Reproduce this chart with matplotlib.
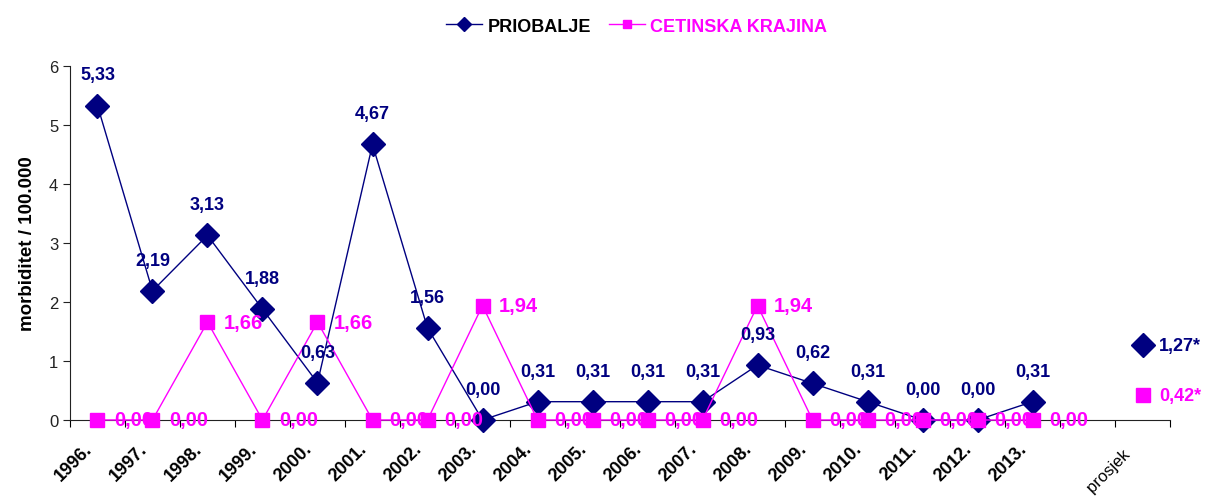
import matplotlib
matplotlib.use("Agg")
import matplotlib.pyplot as plt
import numpy as np

plt.rcParams['font.family'] = ['Liberation Sans', 'DejaVu Sans']

years = ['1996.', '1997.', '1998.', '1999.', '2000.', '2001.', '2002.', '2003.', '2004.',
         '2005.', '2006.', '2007.', '2008.', '2009.', '2010.', '2011.', '2012.', '2013.']
tick_labels = years + ['', 'prosjek  ']
priobalje = [5.33, 2.19, 3.13, 1.88, 0.63, 4.67, 1.56, 0.00, 0.31,
             0.31, 0.31, 0.31, 0.93, 0.62, 0.31, 0.00, 0.00, 0.31]
cetinska = [0.00, 0.00, 1.66, 0.00, 1.66, 0.00, 0.00, 1.94, 0.00,
            0.00, 0.00, 0.00, 1.94, 0.00, 0.00, 0.00, 0.00, 0.00]
avg_priobalje = 1.27
avg_cetinska = 0.42

NAVY = '#000080'
PINK = '#ff00ff'

fig = plt.figure(figsize=(12.15, 5.02), dpi=100)
ax = fig.add_axes([0.0576, 0.1614, 0.9054, 0.7051])

x = np.arange(len(years))
avg_x = len(tick_labels) - 1

def fmt(v):
    return f'{v:.2f}'.replace('.', ',')

ax.plot(x, priobalje, color=NAVY, lw=1, marker='D', ms=12, mec=NAVY, mfc=NAVY,
        zorder=3, label='PRIOBALJE', clip_on=False)
ax.plot(x, cetinska, color=PINK, lw=1, marker='s', ms=10.5, mec=PINK, mfc=PINK,
        zorder=5, label='CETINSKA KRAJINA', clip_on=False)
ax.plot([avg_x], [avg_priobalje], ls='none', marker='D', ms=12, color=NAVY, zorder=3, clip_on=False)
ax.plot([avg_x], [avg_cetinska], ls='none', marker='s', ms=10.5, color=PINK, zorder=5, clip_on=False)

for xi, v in zip(x, priobalje):
    ax.annotate(fmt(v), (xi, v), xytext=(0, 22), textcoords='offset points',
                ha='center', va='center', fontsize=13, fontweight='bold', color=NAVY, zorder=6)
for xi, v in zip(x, cetinska):
    ax.annotate(fmt(v), (xi, v), xytext=(12, 0), textcoords='offset points',
                ha='left', va='center', fontsize=14.5, fontweight='bold', color=PINK, zorder=4)
ax.annotate(fmt(avg_priobalje) + '*', (avg_x, avg_priobalje), xytext=(12, 0),
            textcoords='offset points', ha='left', va='center', fontsize=13,
            fontweight='bold', color=NAVY, annotation_clip=False)
ax.annotate(fmt(avg_cetinska) + '*', (avg_x, avg_cetinska), xytext=(12, 0),
            textcoords='offset points', ha='left', va='center', fontsize=13,
            fontweight='bold', color=PINK, annotation_clip=False)

ax.set_xlim(-0.5, len(tick_labels) - 0.5)
ax.set_ylim(0, 6)
ax.set_yticks(range(7))
ax.tick_params(axis='y', labelsize=12, direction='out', length=5, colors='#222222')

ax.set_xticks(np.arange(len(tick_labels) + 1) - 0.5)
ax.set_xticklabels([])
ax.tick_params(axis='x', which='major', direction='out', length=5)
ax.set_xticks(np.arange(len(tick_labels)), minor=True)
ax.set_xticklabels(tick_labels, minor=True, rotation=45, ha='right', va='top',
                   rotation_mode='anchor', fontsize=13, fontweight='bold')
ax.tick_params(axis='x', which='minor', length=0, pad=14)
for lab in ax.get_xticklabels(minor=True):
    lab.set_transform(lab.get_transform() + matplotlib.transforms.ScaledTranslation(-10 / 72, 0, fig.dpi_scale_trans))
ax.get_xticklabels(minor=True)[-1].set_fontweight('normal')
ax.get_xticklabels(minor=True)[-1].set_fontsize(12)

for s in ['top', 'right']:
    ax.spines[s].set_visible(False)
for s in ['left', 'bottom']:
    ax.spines[s].set_color('#222222')

ax.set_ylabel('morbiditet / 100.000', fontsize=13.5, fontweight='bold', labelpad=9)

leg = fig.legend(loc='upper center', bbox_to_anchor=(0.524, 0.995), ncol=2, frameon=False,
                 prop={'size': 13, 'weight': 'bold'}, markerscale=0.6, handlelength=2.0,
                 columnspacing=1.0, handletextpad=0.3)
leg.get_texts()[0].set_color('black')
leg.get_texts()[1].set_color(PINK)

fig.savefig('out.png', dpi=100)
